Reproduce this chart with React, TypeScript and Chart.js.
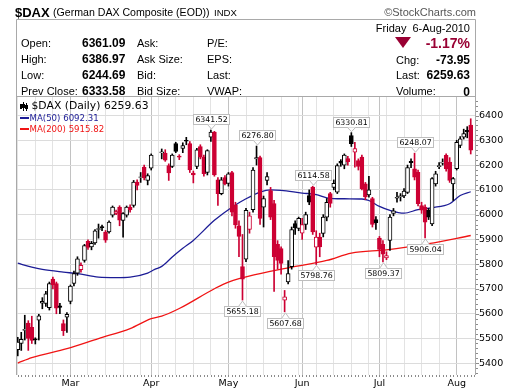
import React, { useEffect, useRef } from 'react';
import { Chart, registerables } from 'chart.js';

Chart.register(...registerables);

// ---------- data (Feb 8 2010 .. Aug 6 2010, one slot per weekday) ----------
const opens: (number | null)[] = [
  5455, 5480, 5533, 5562, 5545, 5499, 5574, 5643, 5642, 5625,
  5740, 5722, 5632, 5560, 5586, 5650, 5722, 5764, 5778, 5815,
  5892, 5870, 5886, 5940, 5952, 5930, 5930, 5998, 6005, 6030,
  5977, 5998, 6030, 6037, 6131, 6150, 6192, 6138, 6187, null,
  null, 6250, 6248, 6198, 6195, 6287, 6236, 6267, 6300, 6287,
  6168, 6195, 6275, 6232, 6170, 6313, 6333, 6140, 6085, 6150,
  6126, 6170, 6040, 5955, 5790, 5820, 5940, 6020, 6225, 6230,
  6030, 6138, 6097, 6045, 5880, 5863, 5655, 5728, 5790, 5964,
  5944, 5925, 5960, 6077, 6111, 5869, 5909, 5924, 5990, 6085,
  6110, 6091, 6215, 6200, 6226, 6319, 6252, 6218, 6232, 6124,
  6080, 6065, 5980, 5905, 5880, 5825, 5896, 6005, 6066, 6072,
  6075, 6090, 6215, 6185, 6171, 6037, 6030, 6018, 5963, 6124,
  6194, 6208, 6239, 6212, 6124, 6185, 6279, 6313, 6340, 6361.09,
];
const highs: (number | null)[] = [
  5505, 5525, 5594, 5572, 5590, 5503, 5598, 5665, 5690, 5728,
  5748, 5728, 5642, 5575, 5605, 5716, 5772, 5830, 5805, 5880,
  5898, 5892, 5940, 5962, 5958, 5936, 5975, 6035, 6018, 6036,
  6008, 6035, 6040, 6138, 6140, 6170, 6200, 6165, 6245, null,
  null, 6265, 6262, 6205, 6245, 6292, 6242, 6290, 6312, 6295,
  6176, 6268, 6282, 6240, 6262, 6341.52, 6336, 6150, 6150, 6158,
  6170, 6175, 6050, 5975, 5920, 6025, 6010, 6190, 6276.8, 6236,
  6075, 6170, 6110, 6058, 5895, 5870, 5694, 5815, 5950, 5975,
  5990, 5985, 6010, 6100, 6114.58, 5935, 5925, 6000, 6065, 6090,
  6140, 6205, 6222, 6245, 6235, 6330.81, 6292, 6225, 6240, 6130,
  6155, 6070, 5992, 5912, 5895, 5850, 6000, 6025, 6090, 6085,
  6105, 6200, 6225, 6248.07, 6180, 6050, 6040, 6025, 6150, 6175,
  6210, 6225, 6245, 6230, 6150, 6300, 6315, 6345, 6355, 6386.97,
];
const lows: (number | null)[] = [
  5430, 5452, 5494, 5452, 5480, 5478, 5494, 5620, 5630, 5615,
  5700, 5600, 5600, 5512, 5525, 5640, 5712, 5755, 5768, 5808,
  5860, 5858, 5880, 5905, 5935, 5888, 5925, 5990, 6000, 5955,
  5909, 5990, 6010, 6030, 6100, 6130, 6140, 6120, 6180, null,
  null, 6225, 6215, 6138, 6190, 6250, 6222, 6250, 6282, 6170,
  6128, 6185, 6225, 6155, 6160, 6295, 6155, 6037, 6080, 6120,
  6115, 5995, 5945, 5830, 5655.18, 5810, 5925, 6010, 6200, 5960,
  5950, 6120, 5980, 5690, 5780, 5760, 5607.68, 5720, 5780, 5920,
  5935, 5900, 5940, 6040, 5920, 5798.76, 5830, 5910, 5975, 6030,
  6100, 6085, 6195, 6185, 6200, 6275, 6192, 6180, 6100, 6060,
  6070, 5950, 5940, 5830, 5809.37, 5818, 5856, 5995, 6050, 6055,
  6068, 6085, 6190, 6140, 6035, 6005, 5906.04, 5980, 5955, 6115,
  6185, 6200, 6175, 6130, 6057, 6180, 6270, 6305, 6310, 6244.69,
];
const closes: (number | null)[] = [
  5486, 5497, 5537, 5500, 5492, 5494, 5592, 5650, 5680, 5722,
  5716, 5622, 5626, 5532, 5598, 5712, 5762, 5822, 5795, 5875,
  5868, 5884, 5935, 5944, 5947, 5897, 5970, 6030, 6012, 5978,
  6004, 6030, 6020, 6131, 6118, 6153, 6148, 6158, 6240, null,
  null, 6253, 6220, 6168, 6240, 6255, 6232, 6279, 6296, 6180,
  6160, 6262, 6232, 6165, 6258, 6333, 6160, 6085, 6140, 6124,
  6165, 6010, 5958, 5912, 5740, 6017, 5995, 6180, 6230, 5985,
  6065, 6154, 5990, 5830, 5815, 5803, 5668, 5762, 5940, 5946,
  5985, 5960, 6000, 6050, 5930, 5909, 5870, 5990, 6050, 6045,
  6126, 6198, 6208, 6240, 6214, 6286, 6267, 6195, 6105, 6071,
  6100, 5960, 5968, 5860, 5840, 5835, 5990, 6015, 6070, 6076,
  6095, 6190, 6210, 6151, 6044, 6018, 5970, 5990, 6145, 6165,
  6198, 6212, 6185, 6138, 6145, 6292, 6306, 6327, 6333.58, 6259.63,
];

const ma50Idx = [0, 4, 7, 13, 17, 23, 28, 32, 37, 39, 41, 44, 47, 50, 56, 61, 65, 69, 72, 75, 81, 85, 88, 93, 98, 100, 103, 106, 110, 114, 118, 123, 126, 129];
const ma50Val = [5804, 5788, 5779, 5768, 5762, 5748, 5746, 5748, 5764, 5779, 5791, 5829, 5864, 5896, 5977, 6030, 6064, 6091, 6100, 6098, 6087, 6081, 6068, 6064, 6063, 6057, 6033, 6017, 6006, 6020, 6028, 6044, 6077, 6092.31];
const ma200Idx = [0, 4, 14, 23, 32, 38, 41, 46, 56, 60, 69, 78, 88, 95, 105, 117, 129];
const ma200Val = [5401, 5423, 5459, 5500, 5540, 5580, 5590, 5621, 5701, 5728, 5762, 5788, 5815, 5845, 5858, 5883, 5915.82];

const monthLabels = ['Mar', 'Apr', 'May', 'Jun', 'Jul', 'Aug'];
const monthStarts = [15, 38, 60, 81, 103, 125];
const yTicks = [5400, 5500, 5600, 5700, 5800, 5900, 6000, 6100, 6200, 6300, 6400];

const highNoteIdx = [55, 68, 84, 95, 113];
const lowNoteIdx = [64, 76, 85, 104, 116];

// ---------- styling ----------
const RED = '#CC0033';
const BLACK = '#000000';
const MA50_COLOR = '#1C1C96';
const MA200_COLOR = '#F01414';
const SANS = '"Liberation Sans", Arial, sans-serif';
const DJV = '"DejaVu Sans", Verdana, sans-serif';
const N = opens.length;

const prevCloseOf = (i: number): number | null => {
  for (let j = i - 1; j >= 0; j--) if (closes[j] != null) return closes[j] as number;
  return null;
};
const idxs = opens.map((_, i) => i).filter((i) => opens[i] != null);
const colorOf = (i: number) => {
  const p = prevCloseOf(i);
  return p == null || (closes[i] as number) >= p ? BLACK : RED;
};

const last = N - 1;
const lastClose = closes[last] as number;
const prevClose = prevCloseOf(last) as number;
const chg = lastClose - prevClose;
const pct = (chg / prevClose) * 100;

function buildConfig(): any {
  const bodyData = idxs.map((i) => ({ x: i, y: [opens[i], closes[i]] }));
  const bodyBg = idxs.map((i) => ((closes[i] as number) < (opens[i] as number) ? colorOf(i) : '#FFFFFF'));
  const bodyBorder = idxs.map((i) => colorOf(i));
  const wickData = idxs.map((i) => ({ x: i, y: [lows[i], highs[i]] }));
  const wickColor = idxs.map((i) => colorOf(i));

  const weekly: number[] = [];
  for (let i = 0; i < N; i += 5) weekly.push(i);

  const plugins = [
    {
      id: 'bg',
      beforeDraw(chart: any) {
        const ctx = chart.ctx;
        ctx.save();
        ctx.fillStyle = '#FFFFFF';
        ctx.fillRect(0, 0, chart.width, chart.height);
        ctx.restore();
      },
    },
    {
      id: 'notes',
      afterDatasetsDraw(chart: any) {
        const { ctx } = chart;
        const xs = chart.scales.x;
        const ys = chart.scales.y;
        ctx.save();
        ctx.font = '7.8px ' + DJV;
        const draw = (i: number, val: number, above: boolean) => {
          const px = xs.getPixelForValue(i);
          const py = ys.getPixelForValue(val);
          const text = val.toFixed(2);
          const w = Math.round(ctx.measureText(text).width + 4);
          const h = 10;
          const bx = Math.round(px - w / 2) + 0.5;
          const by = above ? Math.round(py - 6 - h) + 0.5 : Math.round(py + 6) + 0.5;
          ctx.fillStyle = '#FFFFFF';
          ctx.strokeStyle = '#BEBEBE';
          ctx.lineWidth = 1;
          ctx.fillRect(bx, by, w, h);
          ctx.strokeRect(bx, by, w, h);
          const baseY = above ? by + h : by;
          const tipY = above ? py - 1 : py + 1;
          const cx = Math.round(px) + 0.5;
          ctx.beginPath();
          ctx.moveTo(cx - 4, baseY);
          ctx.lineTo(cx, tipY);
          ctx.lineTo(cx + 4, baseY);
          ctx.closePath();
          ctx.fill();
          ctx.beginPath();
          ctx.moveTo(cx - 4, baseY);
          ctx.lineTo(cx, tipY);
          ctx.lineTo(cx + 4, baseY);
          ctx.stroke();
          ctx.fillStyle = '#000000';
          ctx.textAlign = 'center';
          ctx.textBaseline = 'middle';
          ctx.fillText(text, bx + w / 2, by + h / 2 + 0.5);
        };
        highNoteIdx.forEach((i) => draw(i, highs[i] as number, true));
        lowNoteIdx.forEach((i) => draw(i, lows[i] as number, false));
        ctx.restore();
      },
    },
    {
      id: 'frame',
      afterDraw(chart: any) {
        const { ctx, chartArea: a } = chart;
        const xs = chart.scales.x;
        const ys = chart.scales.y;
        ctx.save();
        ctx.strokeStyle = '#A9A9A9';
        ctx.lineWidth = 1;
        ctx.beginPath();
        ctx.moveTo(a.left + 0.5, a.bottom);
        ctx.lineTo(a.left + 0.5, 19.5);
        ctx.lineTo(a.right - 0.5, 19.5);
        ctx.lineTo(a.right - 0.5, a.bottom);
        ctx.moveTo(a.left, a.top - 0.5);
        ctx.lineTo(a.right, a.top - 0.5);
        ctx.stroke();
        ctx.fillStyle = '#8C8C8C';
        for (let i = 0; i <= N; i++) {
          const x = Math.round(xs.getPixelForValue(i));
          ctx.fillRect(x, a.bottom, 1, 2);
        }
        for (let v = 5360; v <= 6460; v += 20) {
          const y = Math.round(ys.getPixelForValue(v));
          ctx.fillRect(a.right, y, v % 100 === 0 ? 3 : 2, 1);
        }
        ctx.restore();
      },
    },
  ];

  return {
    type: 'bar',
    data: {
      datasets: [
        {
          type: 'bar',
          label: 'body',
          data: bodyData,
          backgroundColor: bodyBg,
          borderColor: bodyBorder,
          borderWidth: 1,
          borderSkipped: false,
          barThickness: 4,
          grouped: false,
          order: 0,
        },
        {
          type: 'bar',
          label: 'wick',
          data: wickData,
          backgroundColor: wickColor,
          borderWidth: 0,
          barThickness: 1,
          grouped: false,
          order: 1,
        },
        {
          type: 'line',
          label: 'MA(50)',
          data: ma50Idx.map((x, k) => ({ x, y: ma50Val[k] })),
          borderColor: MA50_COLOR,
          borderWidth: 1.3,
          pointRadius: 0,
          tension: 0.3,
          cubicInterpolationMode: 'monotone',
          order: 2,
        },
        {
          type: 'line',
          label: 'MA(200)',
          data: ma200Idx.map((x, k) => ({ x, y: ma200Val[k] })),
          borderColor: MA200_COLOR,
          borderWidth: 1.3,
          pointRadius: 0,
          tension: 0.3,
          cubicInterpolationMode: 'monotone',
          order: 3,
        },
      ],
    },
    options: {
      animation: false,
      responsive: false,
      devicePixelRatio: 1,
      layout: { padding: { left: 16, top: 97, right: 0, bottom: 0 } },
      plugins: { legend: { display: false }, tooltip: { enabled: false } },
      scales: {
        x: {
          type: 'linear',
          min: -0.5,
          max: N + 0.5,
          offset: false,
          afterBuildTicks(scale: any) {
            const set = Array.from(new Set([...weekly, ...monthStarts])).sort((a, b) => a - b);
            scale.ticks = set.map((v) => ({ value: v }));
          },
          afterFit(scale: any) {
            scale.height = 16;
          },
          grid: {
            offset: false,
            drawTicks: false,
            color: (c: any) => (c.tick && monthStarts.includes(c.tick.value) ? '#C2C2C2' : '#E3E3E3'),
          },
          border: { display: false },
          ticks: {
            autoSkip: false,
            maxRotation: 0,
            padding: 3,
            color: '#000000',
            font: { family: DJV, size: 9.5 },
            callback: (v: number) => {
              const k = monthStarts.indexOf(v);
              return k >= 0 ? monthLabels[k] : '';
            },
          },
        },
        y: {
          type: 'linear',
          position: 'right',
          min: 5352.8,
          max: 6474.7,
          afterBuildTicks(scale: any) {
            scale.ticks = yTicks.map((v) => ({ value: v }));
          },
          afterFit(scale: any) {
            scale.width = 44;
          },
          grid: { drawTicks: false, color: '#DCDCDC' },
          border: { display: false },
          ticks: {
            padding: 3,
            color: '#000000',
            font: { family: DJV, size: 9.5 },
            callback: (v: number) => String(v),
          },
        },
      },
    },
    plugins,
  };
}

type TxtProps = {
  x: number;
  y: number;
  size: number;
  bold?: boolean;
  color?: string;
  right?: boolean;
  font?: string;
  children: React.ReactNode;
};

const Txt = ({ x, y, size, bold, color, right, font, children }: TxtProps) => (
  <div
    style={{
      position: 'absolute',
      left: right ? undefined : x,
      right: right ? 520 - x : undefined,
      top: y - size / 2,
      fontSize: size,
      lineHeight: size + 'px',
      fontWeight: bold ? 'bold' : 'normal',
      color: color || '#000000',
      fontFamily: font || SANS,
      whiteSpace: 'pre',
    }}
  >
    {children}
  </div>
);

const rowY = [43.3, 59.3, 75.3, 91];
const infoLabelsA = ['Open:', 'High:', 'Low:', 'Prev Close:'];
const infoLabelsB = ['Ask:', 'Ask Size:', 'Bid:', 'Bid Size:'];
const infoLabelsC = ['P/E:', 'EPS:', 'Last:', 'VWAP:'];

export default function App() {
  const ref = useRef<HTMLCanvasElement>(null);
  useEffect(() => {
    document.body.style.margin = '0';
    const chart = new Chart(ref.current as HTMLCanvasElement, buildConfig());
    return () => chart.destroy();
  }, []);

  const infoValues = [
    (opens[last] as number).toFixed(2),
    (highs[last] as number).toFixed(2),
    (lows[last] as number).toFixed(2),
    prevClose.toFixed(2),
  ];

  return (
    <div style={{ position: 'fixed', left: 0, top: 0, width: 520, height: 391, background: '#FFFFFF', overflow: 'hidden' }}>
      <canvas ref={ref} width={520} height={391} style={{ position: 'absolute', left: 0, top: 0, width: 520, height: 391 }} />
      {/* title */}
      <Txt x={15} y={12.5} size={13} bold>$DAX</Txt>
      <Txt x={53} y={12.5} size={10.6}>(German DAX Composite (EOD))</Txt>
      <Txt x={214} y={13} size={9.6}>INDX</Txt>
      <Txt x={476} y={12.5} size={11} right color="#555555">©StockCharts.com</Txt>
      {/* info block */}
      {infoLabelsA.map((t, k) => (
        <Txt key={'a' + k} x={21} y={rowY[k]} size={11}>{t}</Txt>
      ))}
      {infoValues.map((t, k) => (
        <Txt key={'v' + k} x={82} y={rowY[k]} size={12} bold>{t}</Txt>
      ))}
      {infoLabelsB.map((t, k) => (
        <Txt key={'b' + k} x={137} y={rowY[k]} size={11}>{t}</Txt>
      ))}
      {infoLabelsC.map((t, k) => (
        <Txt key={'c' + k} x={207} y={rowY[k]} size={11}>{t}</Txt>
      ))}
      <Txt x={470} y={28.3} size={11} right>Friday  6-Aug-2010</Txt>
      <div
        style={{
          position: 'absolute',
          left: 395,
          top: 37,
          width: 0,
          height: 0,
          borderLeft: '8px solid transparent',
          borderRight: '8px solid transparent',
          borderTop: '11px solid #990033',
        }}
      />
      <Txt x={470} y={43.3} size={14} bold right color="#990033">{pct.toFixed(2) + '%'}</Txt>
      <Txt x={396} y={60} size={11}>Chg:</Txt>
      <Txt x={470} y={60} size={12} bold right>{chg.toFixed(2)}</Txt>
      <Txt x={396} y={75.3} size={11}>Last:</Txt>
      <Txt x={470} y={75.3} size={12} bold right>{lastClose.toFixed(2)}</Txt>
      <Txt x={396} y={91.7} size={11}>Volume:</Txt>
      <Txt x={470} y={91.7} size={12} bold right>0</Txt>
      {/* in-chart legend */}
      <div style={{ position: 'absolute', left: 20, top: 104, width: 2, height: 5, background: '#000' }} />
      <div style={{ position: 'absolute', left: 23, top: 102, width: 1, height: 9, background: '#000' }} />
      <div style={{ position: 'absolute', left: 22, top: 104, width: 3, height: 4, background: '#000' }} />
      <div style={{ position: 'absolute', left: 26, top: 103, width: 1, height: 8, background: '#000' }} />
      <div style={{ position: 'absolute', left: 25, top: 105, width: 3, height: 4, border: '0', background: '#000' }} />
      <Txt x={31.5} y={106.5} size={10.8} font={DJV}>{'$DAX (Daily) ' + lastClose.toFixed(2)}</Txt>
      <div style={{ position: 'absolute', left: 20, top: 117, width: 9, height: 2, background: MA50_COLOR }} />
      <Txt x={29.5} y={118.3} size={8.6} font={DJV} color={MA50_COLOR}>{'MA(50) ' + ma50Val[ma50Val.length - 1].toFixed(2)}</Txt>
      <div style={{ position: 'absolute', left: 20, top: 128, width: 9, height: 2, background: MA200_COLOR }} />
      <Txt x={29.5} y={129.3} size={8.6} font={DJV} color={MA200_COLOR}>{'MA(200) ' + ma200Val[ma200Val.length - 1].toFixed(2)}</Txt>
    </div>
  );
}
